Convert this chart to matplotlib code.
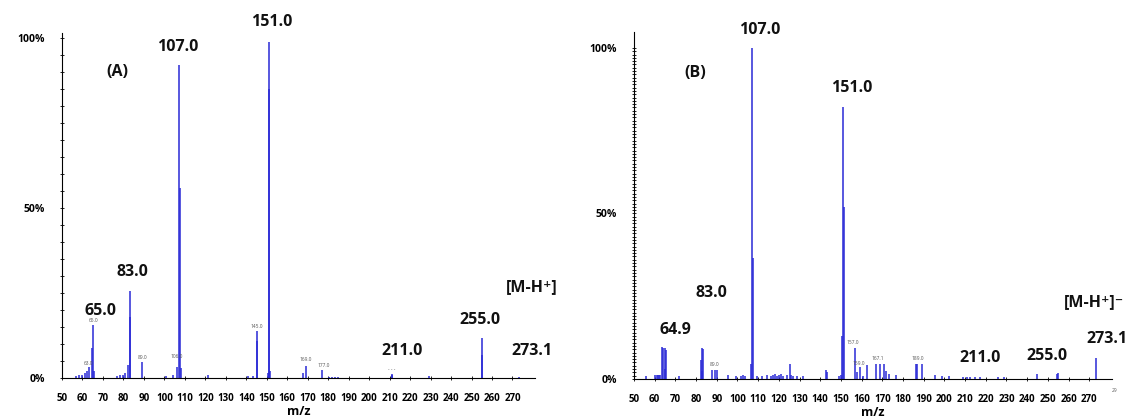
import numpy as np
import matplotlib.pyplot as plt

plt.rcParams['font.family'] = ['Open Sans', 'DejaVu Sans']

# (A) stick spectrum: m/z and relative intensity (%)
mz_a = [57.0, 58.5, 60.0, 61.0, 62.0, 63.0, 64.6, 65.0, 65.5,
        77.0, 78.5, 80.0, 81.0, 82.0, 83.0, 83.4, 89.0,
        100.8, 104.4, 106.0, 107.0, 107.4, 108.0, 121.2,
        141.0, 143.3, 145.0, 145.2, 150.6, 151.0, 151.2, 151.6,
        167.5, 169.0, 177.0, 180.5, 182.0, 183.5, 185.0,
        211.0, 211.3, 229.0, 255.0, 255.2, 273.1]
int_a = [0.6, 0.8, 1.0, 1.5, 2.0, 3.1, 8.9, 15.6, 2.0,
         0.6, 0.8, 1.0, 1.5, 3.7, 25.7, 18.0, 4.8,
         0.5, 0.8, 3.1, 92.0, 56.0, 3.0, 0.8,
         0.5, 0.5, 13.7, 10.8, 1.5, 98.8, 85.0, 2.0,
         1.5, 3.6, 2.4, 0.4, 0.4, 0.4, 0.4,
         1.3, 0.8, 0.5, 11.8, 6.8, 0.3]

# (B) stick spectrum
mz_b = [55.8, 60.1, 61.0, 61.5, 62.0, 62.5, 63.4, 63.8, 64.9, 65.1, 65.4,
        71.9, 82.4, 82.8, 83.0, 83.4, 87.8, 89.0, 90.2, 95.5,
        99.3, 101.5, 102.5, 103.5, 106.5, 107.0, 107.3,
        109.5, 112.0, 114.5, 116.0, 117.0, 118.0, 119.0, 120.0, 121.0,
        122.0, 124.0, 125.3, 126.0, 127.0, 129.0, 131.5,
        143.0, 143.5, 149.0, 150.0, 150.6, 151.0, 151.3,
        157.0, 158.0, 159.0, 160.5, 162.8,
        167.1, 169.1, 170.7, 172.0, 173.0, 176.8,
        186.2, 186.8, 189.0, 195.3, 198.9, 202.1,
        209.0, 211.0, 212.5, 215.0, 217.0, 225.8, 229.0,
        244.9, 254.6, 255.0, 273.1]
int_b = [1.0, 1.3, 1.3, 1.3, 1.3, 1.3, 9.7, 9.5, 9.3, 3.0, 8.8,
         1.0, 5.8, 2.5, 9.3, 9.1, 2.8, 2.8, 2.8, 1.3,
         1.0, 1.0, 1.3, 1.0, 4.5, 100.0, 36.6,
         1.0, 1.0, 1.3, 1.0, 1.2, 1.5, 1.0, 1.3, 1.5,
         1.0, 1.3, 4.6, 1.3, 1.0, 0.8, 0.8,
         2.8, 2.0, 1.0, 1.3, 13.0, 82.0, 52.0,
         9.3, 2.0, 3.5, 1.0, 4.3,
         4.6, 4.6, 4.6, 2.5, 1.5, 1.2,
         4.6, 4.6, 4.6, 1.3, 0.8, 0.8,
         0.6, 0.6, 0.6, 0.6, 0.6, 0.5, 0.5,
         1.5, 1.5, 1.8, 6.3]

# bold annotations: text and where it sits (m/z, %)
big_a = ['65.0', '83.0', '107.0', '151.0', '211.0', '255.0', '[M-H\u207a]', '273.1', '(A)']
big_a_pos = [(68.6, 19.6), (84.5, 31.3), (106.7, 97.4), (152.6, 104.8), (216.0, 7.8),
             (254.2, 17.1), (279.5, 26.9), (279.6, 7.8), (76.9, 90.1)]
big_b = ['64.9', '83.0', '107.0', '151.0', '211.0', '255.0', '[M-H\u207a]\u207b', '273.1', '(B)']
big_b_pos = [(69.8, 14.9), (87.5, 26.0), (110.8, 105.4), (155.3, 87.9), (217.1, 6.4),
             (249.7, 6.8), (272.1, 23.3), (278.4, 12.2), (79.5, 92.5)]

# tiny peak labels printed by the instrument software
small_a = ['63.0', '65.0', '89.0', '106.0', '145.0', '169.0', '177.0', '- - -']
small_a_pos = [(62.8, 4.4), (65.3, 16.8), (89.2, 5.9), (106.0, 6.3), (145.1, 15.2),
               (169.2, 5.4), (177.6, 3.6), (211.1, 2.4)]
small_b = ['89.0', '157.0', '159.0', '167.1', '189.0', '29']
small_b_pos = [(89.1, 4.3), (155.9, 11.0), (158.8, 4.6), (168.0, 6.1), (187.3, 6.1), (282.3, -3.5)]

xticks = np.arange(50, 271, 10)
peak_color = '#2a2ad6'


def spectrum(ax, mz, inten, ytop, ystep, big, big_pos, small, small_pos):
    ax.vlines(mz, 0, inten, color=peak_color, lw=1.1)
    ax.set_xlim(50, 281)
    ax.set_ylim(0, ytop)
    for s in ['top', 'right']:
        ax.spines[s].set_visible(False)
    for s in ['left', 'bottom']:
        ax.spines[s].set_linewidth(0.8)
    ax.set_xticks(xticks)
    ax.set_xticklabels([str(t) for t in xticks], fontsize=7, fontweight='bold')
    ax.set_yticks([0, 50, 100])
    ax.set_yticklabels(['0%', '50%', '100%'], fontsize=7.5, fontweight='bold')
    ax.set_yticks(np.arange(0, 101, ystep), minor=True)
    ax.tick_params(axis='x', direction='inout', length=3, width=0.6, pad=9)
    ax.tick_params(axis='y', which='both', direction='inout', length=2.5, width=0.6, pad=11)
    ax.set_xlabel('m/z', fontsize=9, fontweight='bold', labelpad=1)
    for t, (x, y) in zip(big, big_pos):
        ax.text(x, y, t, ha='center', va='center', fontsize=11.5, fontweight='bold',
                color='#111111', clip_on=False)
    for t, (x, y) in zip(small, small_pos):
        ax.text(x, y, t, ha='center', va='center', fontsize=3.5, color='#555555',
                clip_on=False)


fig = plt.figure(figsize=(11.31, 4.20), dpi=100)
ax1 = fig.add_axes([62 / 1131, 42 / 420, 473 / 1131, 345 / 420])
ax2 = fig.add_axes([634 / 1131, 41 / 420, 478 / 1131, 347 / 420])

spectrum(ax1, mz_a, int_a, 101.5, 5, big_a, big_a_pos, small_a, small_a_pos)
spectrum(ax2, mz_b, int_b, 104.8, 1, big_b, big_b_pos, small_b, small_b_pos)

fig.savefig('out.png', dpi=100)
